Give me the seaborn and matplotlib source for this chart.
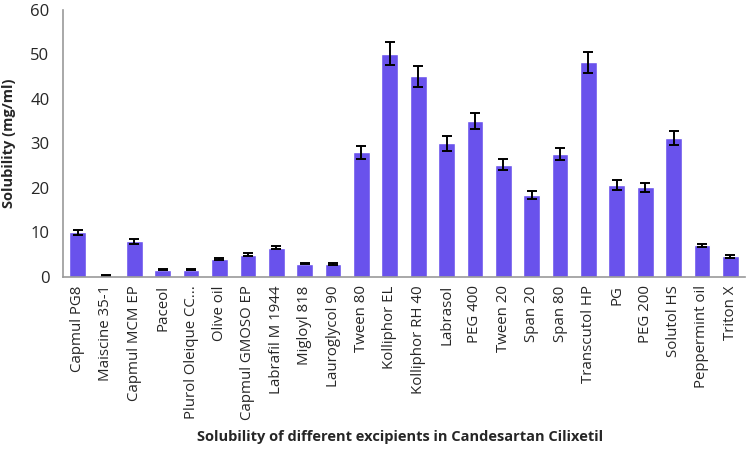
import numpy as np
import pandas as pd
import matplotlib
matplotlib.use("Agg")
import matplotlib.pyplot as plt
import seaborn as sns

excipients = ['Capmul PG8', 'Maiscine 35-1', 'Capmul MCM EP', 'Paceol', 'Plurol Oleique CC...',
              'Olive oil', 'Capmul GMOSO EP', 'Labrafil M 1944', 'Migloyl 818', 'Lauroglycol 90',
              'Tween 80', 'Kolliphor EL', 'Kolliphor RH 40', 'Labrasol', 'PEG 400', 'Tween 20',
              'Span 20', 'Span 80', 'Transcutol HP', 'PG', 'PEG 200', 'Solutol HS',
              'Peppermint oil', 'Triton X']
solubility = [10.0, 0.3, 8.0, 1.6, 1.6, 4.1, 5.0, 6.6, 3.0, 2.85,
              28.0, 50.2, 45.1, 30.0, 35.1, 25.2, 18.4, 27.6, 48.2, 20.6,
              20.2, 31.2, 7.1, 4.6]
sd = [0.6, 0.1, 0.5, 0.15, 0.15, 0.25, 0.3, 0.4, 0.2, 0.2,
      1.5, 2.5, 2.3, 1.6, 1.8, 1.2, 0.9, 1.4, 2.4, 1.1,
      1.0, 1.5, 0.35, 0.25]

df = pd.DataFrame({'excipient': excipients, 'solubility': solubility, 'sd': sd})

sns.set_style('white')
plt.rcParams['font.family'] = ['Open Sans', 'DejaVu Sans']

fig = plt.figure(figsize=(7.46, 4.54), dpi=100)
ax = fig.add_axes([0.085, 0.39, 0.913, 0.588])

sns.barplot(data=df, x='excipient', y='solubility', color='#6952ec', saturation=1,
            width=0.59, errorbar=None, ax=ax)
ax.errorbar(np.arange(len(df)), df['solubility'], yerr=df['sd'], fmt='none',
            ecolor='black', elinewidth=1.4, capsize=3.5, capthick=1.4)

ax.set_ylim(0, 60)
ax.set_yticks(range(0, 61, 10))
ax.set_xlim(-0.5, len(df) - 0.5)
ax.tick_params(axis='y', labelsize=12, length=0, pad=10)
ax.tick_params(axis='x', labelsize=10.8, length=0, pad=6, rotation=90)

for s in ['top', 'right']:
    ax.spines[s].set_visible(False)
for s in ['left', 'bottom']:
    ax.spines[s].set_color('#999999')
    ax.spines[s].set_linewidth(1.2)

ax.set_ylabel('Solubility (mg/ml)', fontsize=10.5, fontweight='bold')
ax.yaxis.set_label_coords(-0.07, 0.5)
ax.set_xlabel('Solubility of different excipients in Candesartan Cilixetil',
              fontsize=10.5, fontweight='bold')
ax.xaxis.set_label_coords(0.495, -0.575)

fig.savefig('out.png', dpi=100)
